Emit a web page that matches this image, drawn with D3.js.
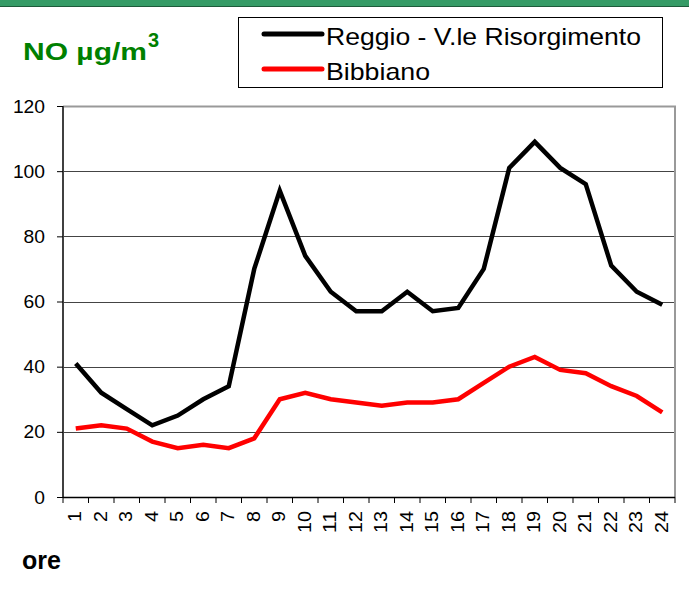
<!DOCTYPE html>
<html><head><meta charset="utf-8">
<script src="https://cdn.jsdelivr.net/npm/d3@7"></script>
<style>body{margin:0;background:#fff}svg{display:block;font-family:"Liberation Sans",Arial,sans-serif}</style>
</head><body><svg id="c" width="689" height="595"></svg>
<script>
const hours = ["1","2","3","4","5","6","7","8","9","10","11","12","13","14","15","16","17","18","19","20","21","22","23","24"];
const reggio = [41,32,27,22,25,30,34,70,94,74,63,57,57,63,57,58,70,101,109,101,96,71,63,59];
const bibbiano = [21,22,21,17,15,16,15,18,30,32,30,29,28,29,29,30,35,40,43,39,38,34,31,26];
const seriesNames = ["Reggio - V.le Risorgimento","Bibbiano"];
const seriesColors = ["#000000","#ff0000"];
const yTicks = [0,20,40,60,80,100,120];

const svg = d3.select("#c");
const L=63,R=675,T=106,B=497;
const FF = "Liberation Sans, Arial, sans-serif";
// top band
svg.append("rect").attr("x",0).attr("y",0).attr("width",689).attr("height",6).attr("fill","#359b66");
svg.append("line").attr("x1",0).attr("x2",689).attr("y1",6.5).attr("y2",6.5).attr("stroke","#1d5a3a").attr("stroke-width",1);

const x = d3.scaleBand().domain(hours).range([L,R]);
const y = d3.scaleLinear().domain([0,120]).range([B,T]);

// gridlines
svg.append("g").selectAll("line").data(yTicks.filter(d=>d>0&&d<120)).join("line")
  .attr("x1",L).attr("x2",R).attr("y1",d=>Math.round(y(d))+0.5).attr("y2",d=>Math.round(y(d))+0.5)
  .attr("stroke","#444").attr("stroke-width",1);
// plot border top/right
svg.append("path").attr("d",`M${L},${T+0.5}H${R}V${B}`).attr("fill","none").attr("stroke","#999").attr("stroke-width",2);

// y axis
const ya = svg.append("g").attr("transform",`translate(${L},0)`)
  .call(d3.axisLeft(y).tickValues(yTicks).tickSize(6).tickPadding(12))
  .attr("font-size",19).attr("font-family",FF);
ya.select(".domain").attr("stroke","#404040").attr("stroke-width",2).attr("d",`M0,${T}V${B}`);
ya.selectAll(".tick line").attr("stroke","#000");
ya.selectAll(".tick text").attr("fill","#000")
  .attr("textLength",d=>String(d).length*10.7).attr("lengthAdjust","spacingAndGlyphs");

// x axis
const xa = svg.append("g").attr("transform",`translate(0,${B})`)
  .call(d3.axisBottom(x).tickSize(0).tickPadding(0))
  .attr("font-size",19).attr("font-family",FF);
xa.select(".domain").attr("stroke","#000").attr("stroke-width",1.5).attr("d",`M${L},0.5H${R}`);
xa.selectAll(".tick text").attr("fill","#000")
  .attr("transform","rotate(-90)").attr("text-anchor","end").attr("x",-14).attr("y",-1).attr("dy","0.35em").attr("dx",0)
  .attr("textLength",d=>d.length*11).attr("lengthAdjust","spacingAndGlyphs");
// boundary ticks
const bounds = hours.map(h=>x(h)).concat([R]);
svg.append("g").selectAll("line").data(bounds).join("line")
  .attr("x1",d=>d).attr("x2",d=>d).attr("y1",B).attr("y2",B+6).attr("stroke","#000").attr("stroke-width",1);

// lines
const line = d3.line().x((d,i)=>x(hours[i])+x.bandwidth()/2).y(d=>y(d));
[reggio,bibbiano].forEach((s,i)=>{
  svg.append("path").datum(s).attr("d",line).attr("fill","none")
    .attr("stroke",seriesColors[i]).attr("stroke-width",4.5).attr("stroke-linejoin","miter").attr("stroke-miterlimit",4);
});

// title
svg.append("text").attr("x",23).attr("y",60).attr("fill","#008000").attr("font-weight","bold")
  .style("font-size","24px").attr("textLength",124).attr("lengthAdjust","spacingAndGlyphs").text("NO µg/m");
svg.append("text").attr("x",148).attr("y",47).attr("fill","#008000").attr("font-weight","bold")
  .style("font-size","20px").text("3");

// legend
svg.append("rect").attr("x",238.5).attr("y",17.5).attr("width",424).attr("height",70).attr("fill","#fff").attr("stroke","#000").attr("stroke-width",1);
const legW = [315,104];
seriesNames.forEach((n,i)=>{
  const yy = 34 + i*35;
  svg.append("line").attr("x1",264).attr("x2",322).attr("y1",yy).attr("y2",yy).attr("stroke",seriesColors[i]).attr("stroke-width",5).attr("stroke-linecap","round");
  svg.append("text").attr("x",326).attr("y",yy+11).style("font-size","24px").attr("fill","#000")
    .attr("textLength",legW[i]).attr("lengthAdjust","spacingAndGlyphs").text(n);
});

svg.append("text").attr("x",22).attr("y",569).attr("font-weight","bold").style("font-size","25px").attr("fill","#000").text("ore");
</script></body></html>
